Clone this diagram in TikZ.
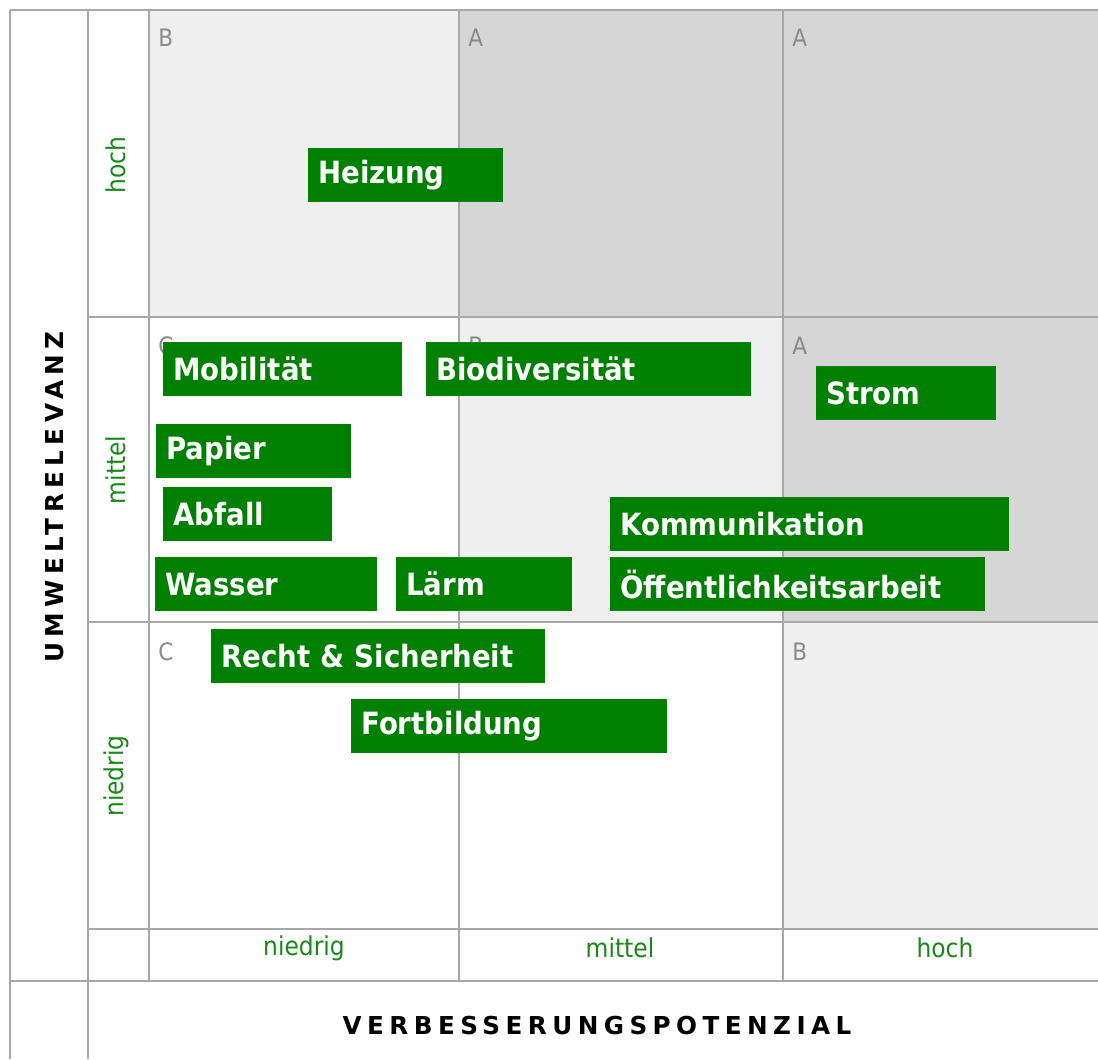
\documentclass[tikz,border=0pt]{standalone}
\usepackage{fontspec}
\setmainfont{DejaVu Sans}[FakeStretch=0.9]
\newfontfamily\boxfont{DejaVu Sans}[FakeStretch=0.9]
\newfontfamily\axisfont{DejaVu Sans}[LetterSpace=22]
\definecolor{boxgreen}{HTML}{008000}
\definecolor{lblgreen}{HTML}{1A871A}
\definecolor{gridgray}{HTML}{A8A8A8}
\definecolor{lightcell}{HTML}{EFEFEF}
\definecolor{darkcell}{HTML}{D6D6D6}
\definecolor{lettergray}{HTML}{8A8A8A}
\tikzset{
  gbox/.style={fill=boxgreen, text=white, font=\boxfont\fontsize{23pt}{27pt}\selectfont\bfseries,
    anchor=north west, minimum height=40.5pt, inner xsep=7.5pt, inner ysep=0pt, align=left},
  grid/.style={draw=gridgray, line width=1.5pt},
  grade/.style={text=lettergray, font=\fontsize{18pt}{21pt}\selectfont, anchor=base west, inner sep=0pt},
  lvl/.style={text=lblgreen, font=\fontsize{19.5pt}{22pt}\selectfont, inner sep=0pt},
  axis/.style={font=\axisfont\fontsize{18.5pt}{22pt}\selectfont\bfseries, text=black, inner sep=0pt}
}
\begin{document}
\begin{tikzpicture}[x=0.75pt, y=-0.75pt]
\useasboundingbox (0,0) rectangle (1098,1059);
\fill[white] (0,0) rectangle (1098,1059);
% cell fills
\fill[lightcell] (149,10) rectangle (459,317);
\fill[darkcell] (459,10) rectangle (1098,317);
\fill[lightcell] (459,317) rectangle (783,622);
\fill[darkcell] (783,317) rectangle (1098,622);
\fill[lightcell] (783,622) rectangle (1098,929);
% grid lines
\draw[grid] (10,10) -- (1098,10);
\draw[grid] (10,10) -- (10,1059);
\draw[grid] (88,10) -- (88,1059);
\draw[grid] (149,10) -- (149,981);
\draw[grid] (459,10) -- (459,981);
\draw[grid] (783,10) -- (783,981);
\draw[grid] (88,317) -- (1098,317);
\draw[grid] (88,622) -- (1098,622);
\draw[grid] (88,929) -- (1098,929);
\draw[grid] (10,981) -- (1098,981);
% grade letters
\node[grade] (g11) at (158,47) {B};
\node[grade] (g12) at (468,47) {A};
\node[grade] (g13) at (792,47) {A};
\node[grade] (g21) at (158,354) {C};
\node[grade] (g22) at (468,354) {B};
\node[grade] (g23) at (792,354) {A};
\node[grade] (g31) at (158,660) {C};
\node[grade] (g33) at (792,660) {B};
% level labels
\node[lvl, rotate=90] (rhoch) at (116,165) {hoch};
\node[lvl, rotate=90] (rmittel) at (116,470) {mittel};
\node[lvl, rotate=90] (rniedrig) at (116,776) {niedrig};
\node[lvl] (cniedrig) at (304,948) {niedrig};
\node[lvl] (cmittel) at (620,948) {mittel};
\node[lvl] (choch) at (945,948) {hoch};
% axis titles
\node[axis] (xaxis) at (597,1026) {VERBESSERUNGSPOTENZIAL};
\node[axis, rotate=90] (yaxis) at (55,497) {UMWELTRELEVANZ};
% green boxes
\node[gbox, text width=131.25pt] (heizung) at (308,148) {Heizung};
\node[gbox, text width=164.25pt] (mobil) at (163,342) {Mobilität};
\node[gbox, text width=228.75pt] (bio) at (426,342) {Biodiversität};
\node[gbox, text width=120pt] (strom) at (816,366) {Strom};
\node[gbox, text width=131.25pt] (papier) at (156,424) {Papier};
\node[gbox, text width=111.75pt] (abfall) at (163,487) {Abfall};
\node[gbox, text width=284.25pt] (komm) at (610,497) {Kommunikation};
\node[gbox, text width=151.5pt] (wasser) at (155,557) {Wasser};
\node[gbox, text width=117pt] (laerm) at (396,557) {Lärm};
\node[gbox, text width=266.25pt] (oeff) at (610,557) {Öffentlichkeitsarbeit};
\node[gbox, text width=235.5pt] (recht) at (211,629) {Recht \& Sicherheit};
\node[gbox, text width=222pt] (fort) at (351,699) {Fortbildung};
\end{tikzpicture}
\end{document}
